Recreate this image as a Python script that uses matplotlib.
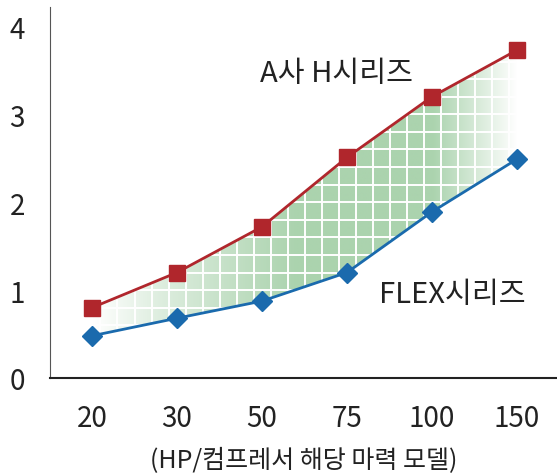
import numpy as np
import matplotlib.pyplot as plt
from matplotlib.patches import Polygon

plt.rcParams['font.family'] = ['Noto Sans CJK KR', 'DejaVu Sans']

models = ['20', '30', '50', '75', '100', '150']
h_series = [0.80, 1.20, 1.72, 2.51, 3.20, 3.73]
flex_series = [0.48, 0.68, 0.875, 1.20, 1.89, 2.49]

red = '#b0262c'
blue = '#1a6aad'

fig = plt.figure(figsize=(5.57, 4.77), dpi=100)
ax = fig.add_axes([50 / 557, 98 / 477, 507 / 557, 371 / 477])

x = np.arange(len(models))

# band between the two series, gradient + white grid clipped to it
verts = list(zip(x, h_series)) + list(zip(x[::-1], flex_series[::-1]))
band = Polygon(verts, closed=True, facecolor='none', edgecolor='none')
ax.add_patch(band)

gx = np.linspace(0, 5, 400)
alpha = np.interp(gx, [0, 0.8, 2.4, 4, 5], [0.0, 0.4, 1.0, 1.0, 0.0])
green = np.array([171, 211, 174]) / 255.0
img = np.ones((1, len(gx), 3)) * (1 - alpha[None, :, None]) + green * alpha[None, :, None]
im = ax.imshow(img, extent=[0, 5, 0, 4], aspect='auto', origin='lower',
               interpolation='bilinear', zorder=1)
im.set_clip_path(band)

for gxl in np.arange(0.1, 5, 0.2):
    ln, = ax.plot([gxl, gxl], [0, 4], color='white', lw=1.4, zorder=2)
    ln.set_clip_path(band)
for gyl in np.arange(0.2, 4, 0.2):
    ln, = ax.plot([0, 5], [gyl, gyl], color='white', lw=1.4, zorder=2)
    ln.set_clip_path(band)

ax.plot(x, h_series, color=red, lw=2, marker='s', ms=11, zorder=4)
ax.plot(x, flex_series, color=blue, lw=2, marker='D', ms=10, zorder=4)

ax.text(2.88, 3.47, 'A사 H시리즈', fontsize=21, ha='center', va='center', color='#222222')
ax.text(4.24, 0.95, 'FLEX시리즈', fontsize=21, ha='center', va='center', color='#222222')

ax.set_xlim(-0.494, 5.47)
ax.set_ylim(0, 4.22)
ax.set_xticks(x)
ax.set_xticklabels(models)
ax.set_yticks([0, 1, 2, 3, 4])
ax.tick_params(axis='both', length=0, labelsize=20, colors='#222222')
ax.tick_params(axis='x', pad=18)
ax.tick_params(axis='y', pad=18)
ax.set_xlabel('(HP/컴프레서 해당 마력 모델)', fontsize=18, color='#222222', labelpad=10)

for s in ['top', 'right']:
    ax.spines[s].set_visible(False)
ax.spines['left'].set_color('#555555')
ax.spines['bottom'].set_color('#222222')
ax.spines['bottom'].set_linewidth(1.5)

fig.savefig('out.png', dpi=100)
